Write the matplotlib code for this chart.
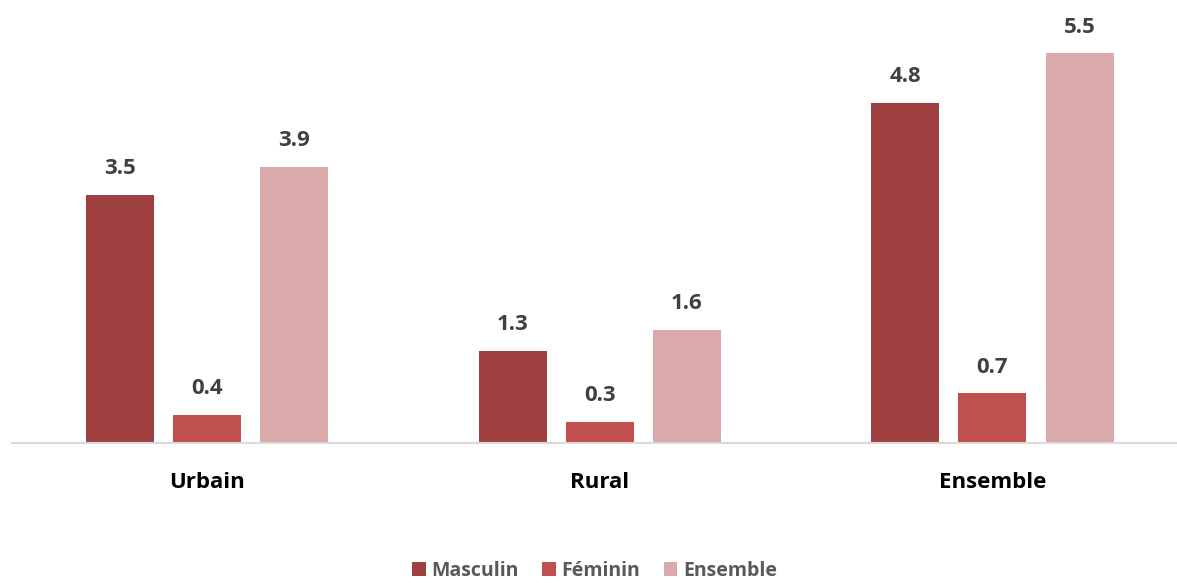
import numpy as np
import matplotlib.pyplot as plt

# data
categories = ["Urbain", "Rural", "Ensemble"]
series = ["Masculin", "Féminin", "Ensemble"]
masculin = [3.5, 1.3, 4.8]
feminin = [0.4, 0.3, 0.7]
ensemble = [3.9, 1.6, 5.5]

colors = ["#9E4040", "#C0504D", "#DAAAAA"]
plt.rcParams['font.family'] = ['Open Sans', 'DejaVu Sans']

fig = plt.figure(figsize=(11.77, 5.83), dpi=100)
ax = fig.add_axes([12 / 1177, 140 / 583, 1165 / 1177, 443 / 583])

x = np.arange(len(categories))
width = 0.173
step = 0.222
for i, (name, vals) in enumerate(zip(series, [masculin, feminin, ensemble])):
    bars = ax.bar(x + (i - 1) * step, vals, width, color=colors[i], label=name)
    for b, v in zip(bars, vals):
        ax.text(b.get_x() + b.get_width() / 2, v + 0.22, f"{v:.1f}",
                ha="center", va="bottom", fontsize=16, fontweight="bold", color="#404040")

ax.set_xlim(-0.497, 2.47)
ax.set_ylim(0, 6.25)
ax.set_yticks([])
ax.set_xticks(x)
ax.set_xticklabels(categories, fontsize=16, fontweight="bold", color="#000000")
ax.tick_params(axis="x", length=0, pad=21)
for s in ["top", "left", "right"]:
    ax.spines[s].set_visible(False)
ax.spines["bottom"].set_color("#D9D9D9")
ax.spines["bottom"].set_linewidth(1.5)

leg = ax.legend(loc="center", bbox_to_anchor=(0.5, -0.289), ncol=3, frameon=False,
                prop={"size": 14, "weight": "bold"}, handlelength=0.7, handleheight=0.7,
                handletextpad=0.3, columnspacing=1.2)
for t in leg.get_texts():
    t.set_color("#595959")

fig.savefig("out.png", dpi=100)
